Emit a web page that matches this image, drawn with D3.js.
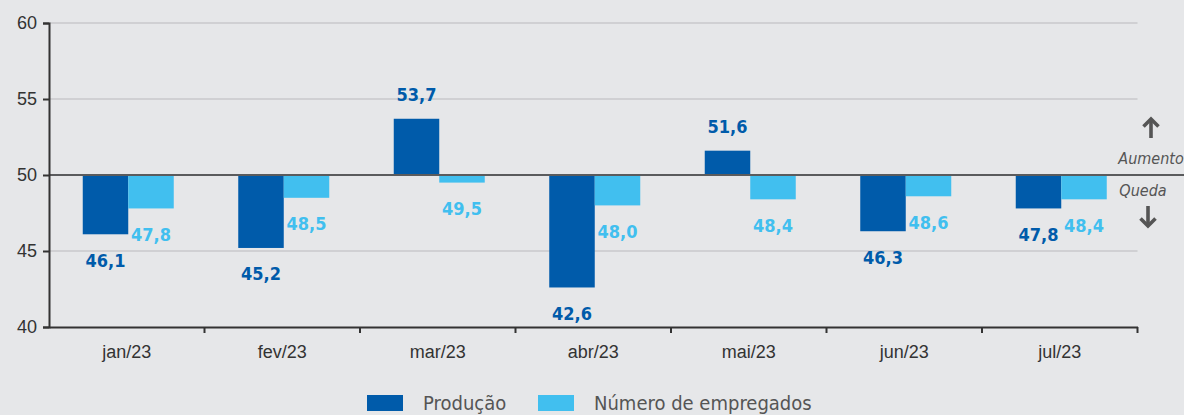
<!DOCTYPE html>
<html><head><meta charset="utf-8">
<script src="https://cdn.jsdelivr.net/npm/d3@7"></script>
<style>
html,body{margin:0;padding:0;background:#E6E7E9;}
svg{display:block;font-family:"DejaVu Sans Condensed","Liberation Sans Narrow","Roboto",sans-serif;}
</style></head><body>
<svg id="c" width="1184" height="415"></svg>
<script>
const categories = ["jan/23","fev/23","mar/23","abr/23","mai/23","jun/23","jul/23"];
const producao = [46.1, 45.2, 53.7, 42.6, 51.6, 46.3, 47.8];
const empregados = [47.8, 48.5, 49.5, 48.0, 48.4, 48.6, 48.4];
const seriesNames = ["Produção", "Número de empregados"];
const yTicks = [40, 45, 50, 55, 60];
const colors = ["#005BAA", "#41BFEF"];
const fmt = v => v.toFixed(1).replace(".", ",");

const svg = d3.select("#c");
const mLeft = 49, mRight = 1137.5, mTop = 23, mBottom = 327;
const x = d3.scaleBand().domain(categories).range([mLeft, mRight]);
const y = d3.scaleLinear().domain([40, 60]).range([mBottom, mTop]);
const bw = 45.5, shift = 1.5;

// gridlines
svg.append("g").selectAll("line").data(yTicks.filter(t => t !== 40 && t !== 50)).join("line")
  .attr("x1", mLeft).attr("x2", mRight).attr("y1", d => y(d)).attr("y2", d => y(d))
  .attr("stroke", "#C8C9CB").attr("stroke-width", 1.3);

const series = [producao, empregados];
series.forEach((vals, si) => {
  const g = svg.append("g");
  g.selectAll("rect").data(vals).join("rect")
    .attr("x", (d, i) => x(categories[i]) + x.bandwidth() / 2 + shift - bw + si * bw)
    .attr("width", bw)
    .attr("y", d => Math.min(y(d), y(50)))
    .attr("height", d => Math.abs(y(d) - y(50)))
    .attr("fill", colors[si]);
  g.selectAll("text").data(vals).join("text")
    .attr("x", (d, i) => x(categories[i]) + x.bandwidth() / 2 + shift - bw / 2 + si * bw)
    .attr("y", d => d >= 50 ? y(d) - 24 : y(d) + 26)
    .attr("dy", "0.36em")
    .attr("text-anchor", "middle")
    .attr("font-weight", "bold").attr("font-size", 18)
    .attr("fill", colors[si])
    .text(d => fmt(d));
});

// baseline at 50
svg.append("line").attr("x1", mLeft).attr("x2", 1184).attr("y1", y(50)).attr("y2", y(50))
  .attr("stroke", "#5A5B5D").attr("stroke-width", 2.2);

// y axis
const ya = svg.append("g").attr("transform", `translate(${mLeft},0)`)
  .call(d3.axisLeft(y).tickValues(yTicks).tickSize(6).tickPadding(6).tickFormat(d => d));
ya.select(".domain").attr("stroke", "#333").attr("stroke-width", 2);
ya.selectAll(".tick line").attr("stroke", "#333").attr("stroke-width", 2);
ya.selectAll(".tick text").attr("font-size", 18).attr("fill", "#333").attr("font-family", "inherit");

// x axis
const xa = svg.append("g").attr("transform", `translate(0,${mBottom})`)
  .call(d3.axisBottom(x).tickSize(0).tickPadding(18));
xa.select(".domain").attr("stroke", "#333").attr("stroke-width", 2.2);
xa.selectAll(".tick text").attr("font-size", 18).attr("fill", "#333").attr("font-family", "inherit");
xa.append("g").selectAll("line").data(categories.slice(1).concat(["__end"])).join("line")
  .attr("x1", d => d === "__end" ? mRight : x(d)).attr("x2", d => d === "__end" ? mRight : x(d))
  .attr("y1", 0).attr("y2", 6).attr("stroke", "#333").attr("stroke-width", 2);

// annotations
const ann = svg.append("g").attr("fill", "#555");
ann.append("text").attr("x", 1151).attr("y", 164).attr("text-anchor", "middle")
  .attr("font-style", "italic").attr("font-size", 16).text("Aumento");
ann.append("text").attr("x", 1143).attr("y", 196).attr("text-anchor", "middle")
  .attr("font-style", "italic").attr("font-size", 16).text("Queda");
function arrow(cx, y0, y1) {
  const dir = Math.sign(y1 - y0);
  ann.append("line").attr("x1", cx).attr("x2", cx).attr("y1", y0).attr("y2", y1 - dir * 2)
    .attr("stroke", "#555").attr("stroke-width", 3.6);
  ann.append("path").attr("d", `M${cx - 7.5},${y1 - dir * 7.5}L${cx},${y1}L${cx + 7.5},${y1 - dir * 7.5}`)
    .attr("fill", "none").attr("stroke", "#555").attr("stroke-width", 3.6).attr("stroke-linejoin", "miter");
}
arrow(1151, 138, 119);
arrow(1148, 206, 226);

// legend
const lg = svg.append("g");
const lx = [367, 538];
seriesNames.forEach((n, i) => {
  lg.append("rect").attr("x", lx[i]).attr("y", 395).attr("width", 36).attr("height", 16).attr("fill", colors[i]);
  lg.append("text").attr("x", lx[i] + 56).attr("y", 410).attr("font-size", 20).attr("fill", "#555").text(n);
});
</script>
</body></html>
